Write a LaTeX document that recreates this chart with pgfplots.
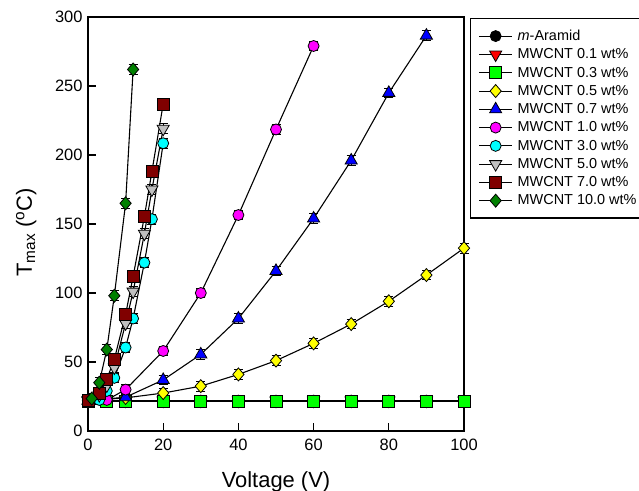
\documentclass[border=0pt]{standalone}
\usepackage{fontspec}
\setmainfont{Liberation Sans}
\usepackage{pgfplots}
\pgfplotsset{compat=1.18}

\definecolor{cntred}{RGB}{255,0,0}
\definecolor{cntlime}{RGB}{0,255,0}
\definecolor{cntyellow}{RGB}{255,255,0}
\definecolor{cntblue}{RGB}{0,0,255}
\definecolor{cntmagenta}{RGB}{255,0,255}
\definecolor{cntcyan}{RGB}{0,255,255}
\definecolor{cntgray}{RGB}{192,192,192}
\definecolor{cntmaroon}{RGB}{128,0,0}
\definecolor{cntgreen}{RGB}{0,128,0}

\begin{document}
\begin{tikzpicture}
\useasboundingbox (-88bp,-60bp) rectangle (551bp,431bp);
\begin{axis}[
  at={(0,0)}, anchor=south west,
  scale only axis, width=376bp, height=414bp,
  xmin=0, xmax=100, ymin=0, ymax=300,
  xtick={0,20,...,100}, ytick={0,50,...,300},
  xtick pos=bottom, ytick pos=left,
  tick align=inside, major tick length=8bp,
  axis line style={line width=1.5bp, black},
  tick style={line width=1.2bp, black},
  /pgf/number format/assume math mode=true,
  ticklabel style={font=\fontsize{16.5}{19}\selectfont},
  xticklabel style={yshift=-5bp},
  yticklabel style={xshift=-2bp},
  xlabel={Voltage (V)},
  ylabel={T\textsubscript{max} (\textsuperscript{o}C)},
  label style={font=\fontsize{22}{26}\selectfont},
  xlabel style={at={(axis description cs:0.5,-0.1353)}, anchor=base},
  ylabel style={at={(axis description cs:-0.149,0.48)}, anchor=base},
  clip=false,
  legend style={at={(rel axis cs:1,1)}, anchor=north west, xshift=6bp, yshift=-1bp,
    draw=black, line width=1.2bp, fill=white,
    font=\fontsize{14.5}{17}\selectfont, row sep=2.7bp, column sep=3bp,
    inner xsep=8bp, inner ysep=9.5bp},
  legend cell align=left,
  legend image code/.code={%
    \draw[mark repeat=2, mark phase=2, #1] plot coordinates {(0bp,0bp) (16.5bp,0bp) (33bp,0bp)};},
  every axis plot/.append style={
    black, line width=1.1bp,
    error bars/y dir=both, error bars/y fixed=3.5,
    error bars/error bar style={line width=0.9bp, black},
    error bars/error mark options={rotate=90, mark size=4.5bp, line width=0.9bp, black}},
]

% neat m-Aramid film
\addplot[mark=*, mark size=5.5bp, mark options={fill=black, draw=black, line width=0.8bp}]
  coordinates {(0,22) (10,22) (20,22) (30,22) (40,22) (50,22) (60,22) (70,22) (80,22) (90,22) (100,22)};
\addlegendentry{\textit{m}-Aramid}

\addplot[mark=triangle*, mark size=7bp, mark options={fill=cntred, draw=black, line width=0.8bp, rotate=180}]
  coordinates {(0,22) (10,22) (20,22) (30,22) (40,22) (50,22) (60,22) (70,22) (80,22) (90,22) (100,22)};
\addlegendentry{MWCNT 0.1 wt\%}

\addplot[mark=square*, mark size=6bp, mark options={fill=cntlime, draw=black, line width=0.8bp}]
  coordinates {(0,21.5) (5,21.5) (10,21.5) (20,21.5) (30,21.5) (40,21.5) (50,21.5) (60,21.5) (70,21.5) (80,21.5) (90,21.5) (100,21.5)};
\addlegendentry{MWCNT 0.3 wt\%}

\addplot[mark=diamond*, mark size=6.5bp, mark options={fill=cntyellow, draw=black, line width=0.8bp, xscale=1.15}]
  coordinates {(0,22) (10,24) (20,27.5) (30,32.5) (40,41) (50,51) (60,63.5) (70,77.5) (80,94) (90,113) (100,132.5)};
\addlegendentry{MWCNT 0.5 wt\%}

\addplot[mark=triangle*, mark size=7bp, mark options={fill=cntblue, draw=black, line width=0.8bp}]
  coordinates {(0,22) (10,24.5) (20,37) (30,55.5) (40,81.5) (50,116) (60,154) (70,196) (80,245) (90,286.5)};
\addlegendentry{MWCNT 0.7 wt\%}

\addplot[mark=*, mark size=5.5bp, mark options={fill=cntmagenta, draw=black, line width=0.8bp}]
  coordinates {(0,22) (5,22.5) (10,30) (20,58) (30,100) (40,156.5) (50,218.5) (60,279)};
\addlegendentry{MWCNT 1.0 wt\%}

\addplot[mark=*, mark size=5.5bp, mark options={fill=cntcyan, draw=black, line width=0.8bp}]
  coordinates {(0,22) (3,22.5) (5,29) (7,38.5) (10,60.5) (12,81.5) (15,122) (17,153.5) (20,208.5)};
\addlegendentry{MWCNT 3.0 wt\%}

\addplot[mark=triangle*, mark size=7bp, mark options={fill=cntgray, draw=black, line width=0.8bp, rotate=180}]
  coordinates {(0,22) (3,26) (5,33) (7,46) (10,78) (12,101) (15,143) (17,175) (20,219)};
\addlegendentry{MWCNT 5.0 wt\%}

\addplot[mark=square*, mark size=6bp, mark options={fill=cntmaroon, draw=black, line width=0.8bp}]
  coordinates {(0,22) (3,27) (5,37.5) (7,52) (10,84.5) (12,112) (15,155.5) (17,188) (20,237)};
\addlegendentry{MWCNT 7.0 wt\%}

\addplot[mark=diamond*, mark size=6.5bp, mark options={fill=cntgreen, draw=black, line width=0.8bp, xscale=1.15}]
  coordinates {(1,23.5) (3,35) (5,59) (7,98) (10,165) (12,262)};
\addlegendentry{MWCNT 10.0 wt\%}

\end{axis}
\end{tikzpicture}
\end{document}
